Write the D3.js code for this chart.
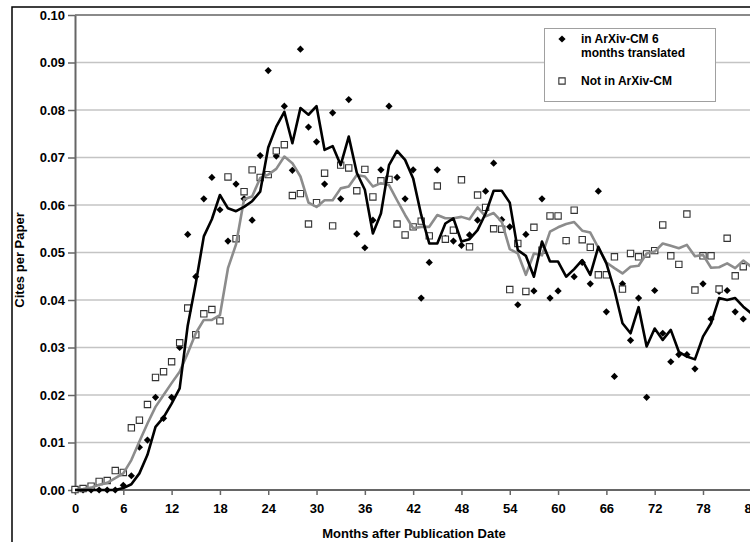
<!DOCTYPE html>
<html>
<head>
<meta charset="utf-8">
<script src="https://cdn.jsdelivr.net/npm/d3@7"></script>
<style>
  body { margin: 0; background: #fff; }
  svg { display: block; font-family: "Liberation Sans", Arial, sans-serif; }
  .axis text { font-size: 13px; font-weight: bold; fill: #000; }
  .axis path, .axis line { stroke: #666; }
</style>
</head>
<body>
<svg id="chart" width="750" height="542"></svg>
<script>
// months 0..83 (points), 0..84 (moving averages)
const months = d3.range(0, 84);
const avgMonths = d3.range(0, 85);

// in ArXiv-CM 6 months translated (diamonds)
const arxivCites = [
  0, 0, 0, 0, 0, 0, 0.001, 0.003, 0.009, 0.0105,
  0.0195, 0.0151, 0.0195, 0.030, 0.0538, 0.0449, 0.0613, 0.0658, 0.059, 0.0524,
  0.0644, 0.0613, 0.0568, 0.0704, 0.0883, 0.0703, 0.0808, 0.0673, 0.0928, 0.0764,
  0.0733, 0.0644, 0.0794, 0.0613, 0.0822, 0.0539, 0.051, 0.0568, 0.0674, 0.0808,
  0.0658, 0.0613, 0.0674, 0.0404, 0.0479, 0.0674, 0.053, 0.0524, 0.0515, 0.0537,
  0.0568, 0.0629, 0.0688, 0.0569, 0.0554, 0.039, 0.0538, 0.0419, 0.0613, 0.0404,
  0.0419, 0.0524, 0.0449, 0.0479, 0.0434, 0.0629, 0.0375, 0.0239, 0.0434, 0.0315,
  0.0404, 0.0195, 0.042, 0.033, 0.027, 0.0285, 0.0285, 0.0255, 0.0434, 0.036,
  0.0418, 0.042, 0.0375, 0.036
];

// Not in ArXiv-CM (squares)
const otherCites = [
  0.0001, 0.0003, 0.0008, 0.0018, 0.002, 0.0041, 0.0037, 0.0131, 0.0147, 0.018,
  0.0237, 0.0249, 0.027, 0.031, 0.0383, 0.0327, 0.0371, 0.038, 0.0356, 0.0659,
  0.0529, 0.0628, 0.0674, 0.0658, 0.0664, 0.0714, 0.0727, 0.062, 0.0624, 0.056,
  0.0605, 0.0667, 0.0556, 0.0684, 0.0678, 0.063, 0.0675, 0.0617, 0.0651, 0.0654,
  0.056, 0.0537, 0.0554, 0.0566, 0.0535, 0.064, 0.0528, 0.0547, 0.0653, 0.0512,
  0.0621, 0.0595, 0.055, 0.0549, 0.0422, 0.0519, 0.0418, 0.0553, 0.0505, 0.0577,
  0.0577, 0.0525, 0.0589, 0.0527, 0.0511, 0.0453, 0.0453, 0.0491, 0.0423, 0.0498,
  0.0491, 0.0497, 0.0504, 0.0558, 0.0493, 0.0475, 0.0581, 0.0421, 0.0493, 0.0493,
  0.0423, 0.053, 0.0451, 0.047
];

// trend lines
const arxivAvg = [
  0, 0, 0, 0, 0, 0, 0.0004, 0.0012, 0.0035, 0.0074,
  0.0133, 0.0153, 0.0182, 0.0214, 0.0346, 0.0435, 0.0534, 0.057, 0.0621, 0.0593,
  0.0587, 0.0596, 0.0608, 0.0628, 0.0721, 0.0765, 0.0796, 0.073, 0.0804, 0.079,
  0.0808, 0.0716, 0.0724, 0.0684, 0.0744, 0.0668, 0.0632, 0.054, 0.0582, 0.0684,
  0.0714, 0.0695, 0.0656, 0.0579, 0.0519, 0.0519, 0.0561, 0.0572, 0.0523, 0.0528,
  0.0547, 0.0582, 0.063, 0.063, 0.0605, 0.0505, 0.0493, 0.0449, 0.0523, 0.0481,
  0.0481, 0.0449, 0.0465, 0.0484, 0.0453, 0.0512, 0.0477, 0.0421, 0.0351, 0.033,
  0.0385, 0.0302, 0.034, 0.0316, 0.0337, 0.0291, 0.0281, 0.0275, 0.0323, 0.0351,
  0.0404, 0.04, 0.0404, 0.0386, 0.0372
];

const otherAvg = [
  0, 0.0002, 0.0005, 0.0011, 0.0015, 0.0025, 0.0035, 0.0063, 0.0102, 0.014,
  0.0175, 0.02, 0.0225, 0.0249, 0.0288, 0.033, 0.0358, 0.0358, 0.0368, 0.0467,
  0.0517, 0.0612, 0.0618, 0.0657, 0.0664, 0.0676, 0.0702, 0.0688, 0.066, 0.0605,
  0.0596, 0.061, 0.061, 0.0635, 0.0639, 0.0663, 0.066, 0.0639, 0.0646, 0.0642,
  0.061, 0.0579, 0.0551, 0.0554, 0.0554, 0.0579, 0.0572, 0.0572, 0.0575, 0.057,
  0.0595, 0.0576, 0.0583, 0.0565, 0.0507, 0.0498, 0.0453, 0.0498, 0.0494, 0.0544,
  0.0553, 0.056, 0.0564, 0.0546, 0.0542, 0.051, 0.0479, 0.0467, 0.0456, 0.047,
  0.0472, 0.0498, 0.0502, 0.0519, 0.0514, 0.0509, 0.0516, 0.0492, 0.0495, 0.0468,
  0.0469, 0.0477, 0.0467, 0.0483, 0.047
];

const xTicks = d3.range(0, 85, 6);
const yTicks = d3.range(0, 0.1001, 0.01);

const svg = d3.select("#chart");
const x = d3.scaleLinear().domain([0, 84]).range([75, 751.3]);
const y = d3.scaleLinear().domain([0, 0.1]).range([490, 15]);

// outer chart frame (continues past the picture)
svg.append("path")
  .attr("d", "M12,545 L12,7 L760,7")
  .attr("fill", "none")
  .attr("stroke", "#000")
  .attr("stroke-width", 1.5);

// gridlines
svg.append("g")
  .selectAll("line")
  .data(yTicks.slice(1))
  .join("line")
  .attr("x1", x(0)).attr("x2", 760)
  .attr("y1", d => y(d)).attr("y2", d => y(d))
  .attr("stroke", "#c4c4c4")
  .attr("stroke-width", 1.5);

// plot top border
svg.append("line")
  .attr("x1", x(0)).attr("x2", 760)
  .attr("y1", y(0.1)).attr("y2", y(0.1))
  .attr("stroke", "#8a8a8a")
  .attr("stroke-width", 2);

// axes
const yAxis = svg.append("g")
  .attr("class", "axis")
  .attr("transform", `translate(${x(0)},0)`)
  .call(d3.axisLeft(y).tickValues(yTicks).tickFormat(d3.format(".2f")).tickSize(7).tickPadding(3).tickSizeOuter(0));
yAxis.select(".domain").attr("stroke-width", 2);
yAxis.selectAll(".tick line").attr("stroke-width", 1.5);

const xAxis = svg.append("g")
  .attr("class", "axis")
  .attr("transform", `translate(0,${y(0)})`)
  .call(d3.axisBottom(x).tickValues(xTicks).tickSize(5).tickPadding(9).tickSizeOuter(0));
xAxis.select(".domain").attr("stroke-width", 2).attr("d", `M${x(0)},0H760`);
xAxis.selectAll(".tick line").attr("stroke-width", 1.5);

// points
const diamond = d3.symbol(d3.symbolSquare, 26);
const square = d3.symbol(d3.symbolSquare, 40);

svg.append("g")
  .selectAll("path")
  .data(months)
  .join("path")
  .attr("d", diamond)
  .attr("transform", m => `translate(${x(m)},${y(arxivCites[m])}) rotate(45)`)
  .attr("fill", "#000");

svg.append("g")
  .selectAll("path")
  .data(months)
  .join("path")
  .attr("d", square)
  .attr("transform", m => `translate(${x(m)},${y(otherCites[m])})`)
  .attr("fill", "#fff")
  .attr("stroke", "#333")
  .attr("stroke-width", 1.1);

// moving average lines
const line = vals => d3.line().x(m => x(m)).y(m => y(vals[m]))(avgMonths);

svg.append("path")
  .attr("d", line(otherAvg))
  .attr("fill", "none")
  .attr("stroke", "#8c8c8c")
  .attr("stroke-width", 2.6)
  .attr("stroke-linejoin", "round");

svg.append("path")
  .attr("d", line(arxivAvg))
  .attr("fill", "none")
  .attr("stroke", "#000")
  .attr("stroke-width", 2.6)
  .attr("stroke-linejoin", "round");

// axis titles
svg.append("text")
  .attr("x", 414).attr("y", 538)
  .attr("text-anchor", "middle")
  .style("font-size", "13px").style("font-weight", "bold")
  .text("Months after Publication Date");

svg.append("text")
  .attr("transform", "translate(24,260) rotate(-90)")
  .attr("text-anchor", "middle")
  .style("font-size", "13px").style("font-weight", "bold")
  .text("Cites per Paper");

// legend
const legend = svg.append("g");
legend.append("rect")
  .attr("x", 544.5).attr("y", 28.5)
  .attr("width", 171).attr("height", 73)
  .attr("fill", "#fff")
  .attr("stroke", "#a0a0a0");
legend.append("path")
  .attr("d", diamond)
  .attr("transform", "translate(562,39) rotate(45)")
  .attr("fill", "#000");
legend.append("path")
  .attr("d", square)
  .attr("transform", "translate(562,81)")
  .attr("fill", "#fff").attr("stroke", "#333").attr("stroke-width", 1.1);
const legendText = legend.append("text")
  .style("font-size", "12px").style("font-weight", "bold");
legendText.append("tspan").attr("x", 581).attr("y", 43).text("in ArXiv-CM 6");
legendText.append("tspan").attr("x", 581).attr("y", 57).text("months translated");
legend.append("text")
  .attr("x", 581).attr("y", 85)
  .style("font-size", "12px").style("font-weight", "bold")
  .text("Not in ArXiv-CM");
</script>
</body>
</html>
